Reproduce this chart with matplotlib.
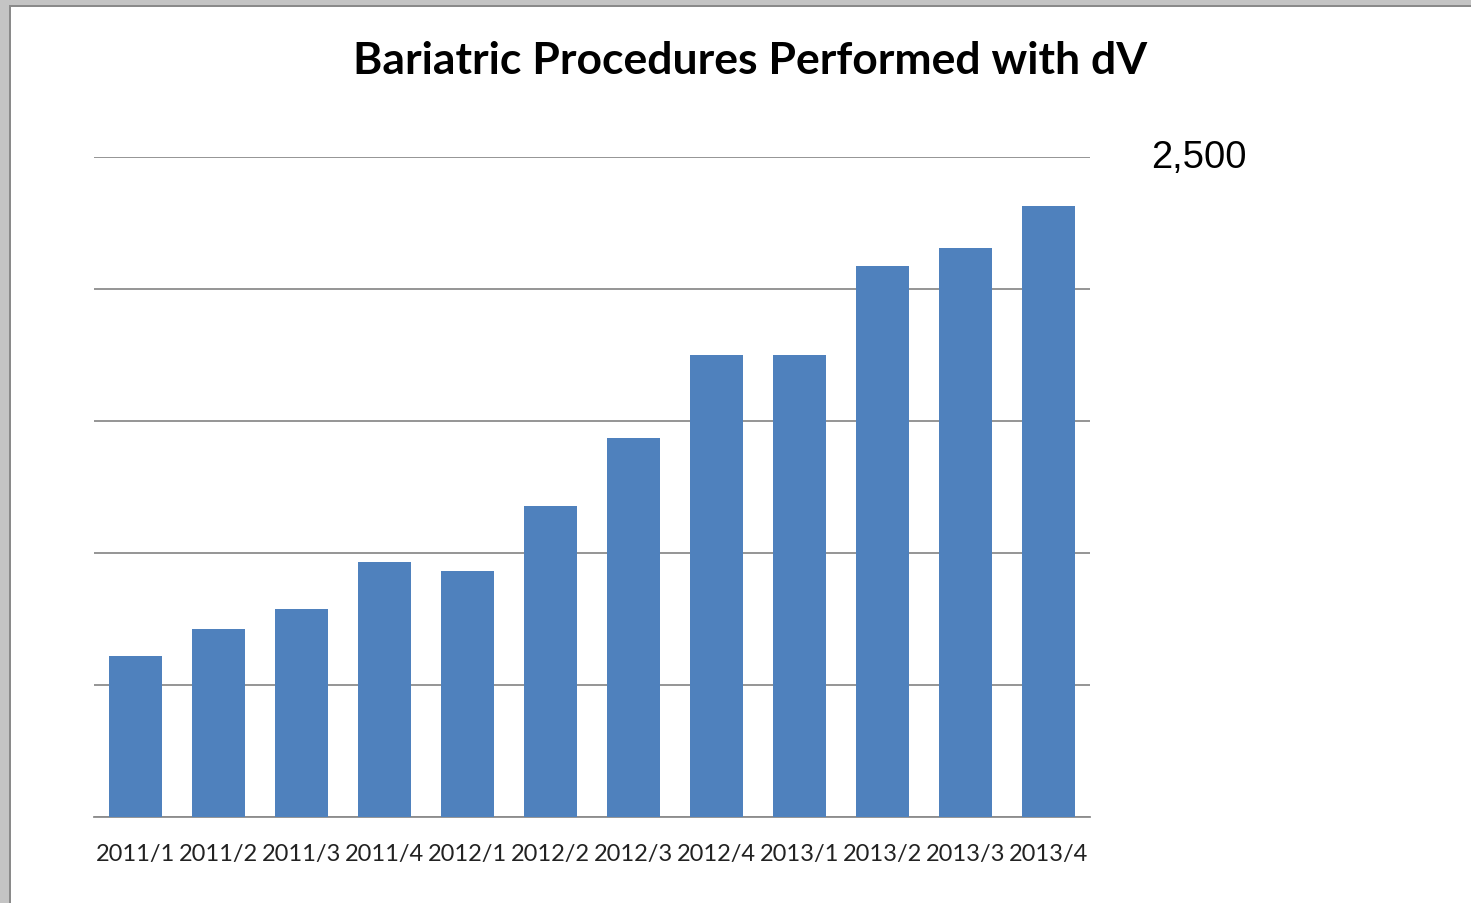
import matplotlib.pyplot as plt
from matplotlib.patches import Rectangle

quarters = ["2011/1", "2011/2", "2011/3", "2011/4", "2012/1", "2012/2",
            "2012/3", "2012/4", "2013/1", "2013/2", "2013/3", "2013/4"]
procedures = [610, 712, 788, 966, 932, 1178, 1436, 1750, 1750, 2087, 2155, 2314]
grid_values = [0, 500, 1000, 1500, 2000, 2500]
grid_labels = ["", "", "", "", "", "2,500"]

fig = plt.figure(figsize=(14.71, 9.04), dpi=100)

# window-like border with shadow on left and top
fig.patches.append(Rectangle((0, 0), 10 / 1471, 1, transform=fig.transFigure,
                             facecolor="#c4c4c4", edgecolor="none"))
fig.patches.append(Rectangle((0, 1 - 7 / 904), 1, 7 / 904, transform=fig.transFigure,
                             facecolor="#c4c4c4", edgecolor="none"))
fig.patches.append(Rectangle((9 / 1471, 0), 2 / 1471, 1 - 6 / 904, transform=fig.transFigure,
                             facecolor="#8a8a8a", edgecolor="none"))
fig.patches.append(Rectangle((9 / 1471, 1 - 8 / 904), 1, 2 / 904, transform=fig.transFigure,
                             facecolor="#8a8a8a", edgecolor="none"))

ax = fig.add_axes([94 / 1471, 1 - 818 / 904, 996 / 1471, 660 / 904])
x = range(len(quarters))
ax.bar(x, procedures, width=0.64, color="#4F81BD", zorder=3)

ax.set_xlim(-0.5, len(quarters) - 0.5)
ax.set_ylim(0, 2500)
ax.set_yticks(grid_values)
ax.set_yticklabels(grid_labels, family="Liberation Sans", fontsize=27.5)
ax.yaxis.tick_right()
ax.tick_params(axis="y", length=0, pad=44)
ax.grid(axis="y", color="#8c8c8c", linewidth=1.3, zorder=0)
ax.set_xticks(list(x))
ax.set_xticklabels(quarters, family="Lato", fontsize=17, color="#222222")
ax.tick_params(axis="x", length=0, pad=19)
for s in ["top", "right", "left"]:
    ax.spines[s].set_visible(False)
ax.spines["bottom"].set_color("#8c8c8c")
ax.spines["bottom"].set_linewidth(1.3)
for lbl in ax.get_yticklabels():
    lbl.set_verticalalignment("center")

fig.text(0.51, 0.932, "Bariatric Procedures Performed with dV", ha="center", va="center",
         family="Lato", fontweight="bold", fontsize=32)

fig.savefig("out.png", dpi=100)
